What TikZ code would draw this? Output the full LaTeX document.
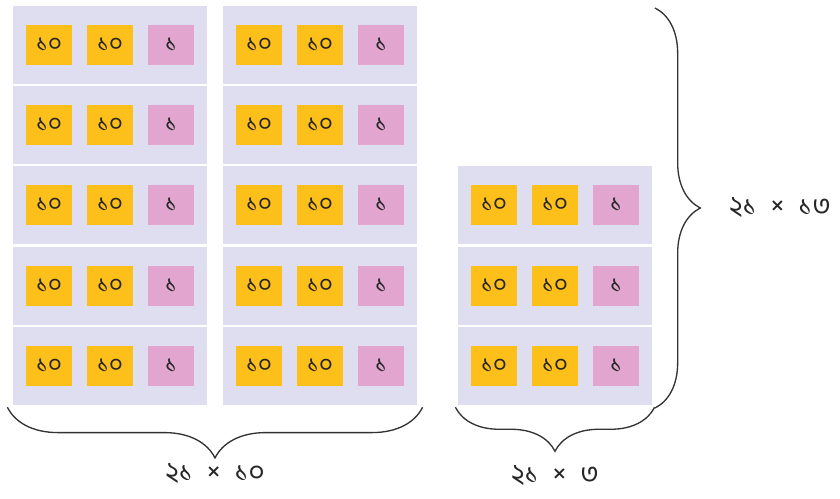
\documentclass[tikz,border=0pt]{standalone}
\usepackage{fontspec}
\newfontfamily\bnfont[Script=Bengali]{Hind Siliguri}
\usetikzlibrary{positioning,calc,decorations.pathreplacing}
\definecolor{panelbg}{HTML}{DFDDF0}
\definecolor{tenfill}{HTML}{FDBF1A}
\definecolor{onefill}{HTML}{E2A5CF}
\definecolor{bracecol}{HTML}{333333}

\begin{document}
\begin{tikzpicture}[
    x=0.75pt, y=-0.75pt,
    rowbox/.style={rectangle, fill=panelbg, minimum width=146pt, minimum height=58.5pt, inner sep=0pt},
    ten/.style={rectangle, fill=tenfill, minimum width=35pt, minimum height=30pt, inner sep=0pt, font=\bnfont\fontsize{18}{18}\selectfont, text=black!85},
    one/.style={ten, fill=onefill},
    brace/.style={draw=bracecol, line width=1pt, decorate, decoration={brace, amplitude=#1}},
    lbl/.style={font=\bnfont\fontsize{21}{21}\selectfont, text=black!85, inner sep=0pt}
]
\useasboundingbox (0,0) rectangle (840,499);

% সারি: বাম দুই কলাম
\foreach \c/\cx in {a/110, b/320} {
  \foreach \r/\ry in {1/45, 2/125, 3/205, 4/286, 5/366} {
    \node[rowbox] (row-\c-\r) at (\cx,\ry) {};
    \node[ten] (\c\r-t1) at ($(row-\c-\r)+(-61,0)$) {১০};
    \node[ten] (\c\r-t2) at ($(row-\c-\r)+(0,0)$) {১০};
    \node[one] (\c\r-o) at ($(row-\c-\r)+(61,0)$) {১};
  }
}

% ডান কলাম
\foreach \r/\ry in {3/205, 4/286, 5/366} {
  \node[rowbox] (row-c-\r) at (555,\ry) {};
  \node[ten] (c\r-t1) at ($(row-c-\r)+(-61,0)$) {১০};
  \node[ten] (c\r-t2) at ($(row-c-\r)+(0,0)$) {১০};
  \node[one] (c\r-o) at ($(row-c-\r)+(61,0)$) {১};
}

% বন্ধনী
\coordinate (bl-a) at ($(row-a-5.south west)+(-5,2)$);
\coordinate (bl-b) at ($(row-b-5.south east)+(5,2)$);
\coordinate (br-a) at ($(row-c-5.south west)+(-2,2)$);
\coordinate (br-b) at ($(row-c-5.south east)+(2,2)$);
\coordinate (rt-a) at (655,8);
\coordinate (rt-b) at (655,408);

\draw[brace=38pt, decoration={mirror}] (bl-a) -- (bl-b)
  node[midway, below=42pt, lbl] (lbl-ten) {২১\enspace×\enspace১০};
\draw[brace=33pt, decoration={mirror}] (br-a) -- (br-b)
  node[midway, below=43pt, lbl] (lbl-three) {২১\enspace×\enspace৩};
\draw[brace=34pt] (rt-a) -- (rt-b)
  node[midway, right=55pt, lbl] (lbl-thirteen) {২১\enspace×\enspace১৩};

\end{tikzpicture}
\end{document}
